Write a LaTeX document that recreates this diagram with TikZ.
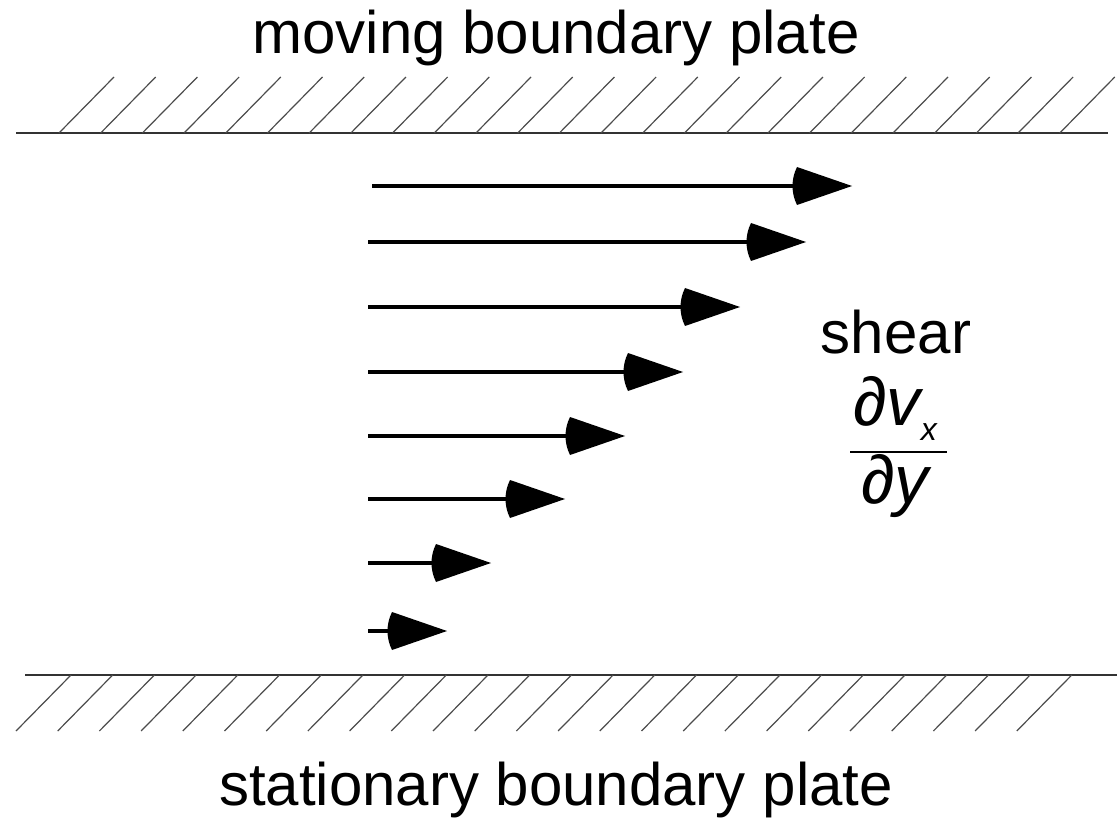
\documentclass[tikz,border=0pt]{standalone}
\usepackage{fontspec}
\setmainfont{Liberation Sans}
\usetikzlibrary{calc}
\tikzset{
  plate/.style={line width=1.5pt, draw=black!80},
  hatch/.style={line width=1.2pt, draw=black!70},
  shaft/.style={line width=4pt, draw=black},
  head/.style={fill=black},
  lbl/.style={font=\fontsize{60}{72}\selectfont, inner sep=0pt, anchor=base},
  mathlbl/.style={font=\fontsize{68}{76}\selectfont\itshape, inner sep=0pt, anchor=base}
}
\begin{document}
\begin{tikzpicture}[x=1pt,y=-1pt]
\useasboundingbox[fill=white] (0,0) rectangle (1120,821);

% top plate
\coordinate (tpL) at (16,133);
\coordinate (tpR) at (1108,133);
\draw[plate] (tpL) -- (tpR);
\foreach \i in {0,...,24} \draw[hatch] ({59+41.7*\i},133) -- ++(55,-56);

% bottom plate
\coordinate (bpL) at (25,675);
\coordinate (bpR) at (1117,675);
\draw[plate] (bpL) -- (bpR);
\foreach \i in {0,...,24} \draw[hatch] ({71+41.7*\i},675) -- ++(-55,56);

% velocity arrows
\foreach \s/\y/\t [count=\i] in {372/186/852, 368/242/806, 368/307/740, 368/372/683, 368/436/625, 368/499/565, 368/563/491, 368/631/447} {
  \coordinate (s\i) at (\s,\y);
  \coordinate (t\i) at (\t,\y);
  \draw[shaft] (s\i) -- ($(t\i)+(-50,0)$);
  \fill[head] (t\i) -- ($(t\i)+(-55,-19)$) .. controls ($(t\i)+(-61,-7)$) and ($(t\i)+(-61,7)$) .. ($(t\i)+(-55,19)$) -- cycle;
}

% labels
\node[lbl] (top) at (556,54) {moving boundary plate};
\node[lbl] (bot) at (556,805) {stationary boundary plate};
\node[lbl] (shear) at (896,353) {shear};
\node[mathlbl] (num) at (895,425) {∂v\raisebox{-15pt}{\fontsize{32}{34}\selectfont\itshape x}};
\coordinate (fbL) at (850,452);
\coordinate (fbR) at (947,452);
\draw[line width=2pt] (fbL) -- (fbR);
\node[mathlbl] (den) at (895,503) {∂y};
\end{tikzpicture}
\end{document}
